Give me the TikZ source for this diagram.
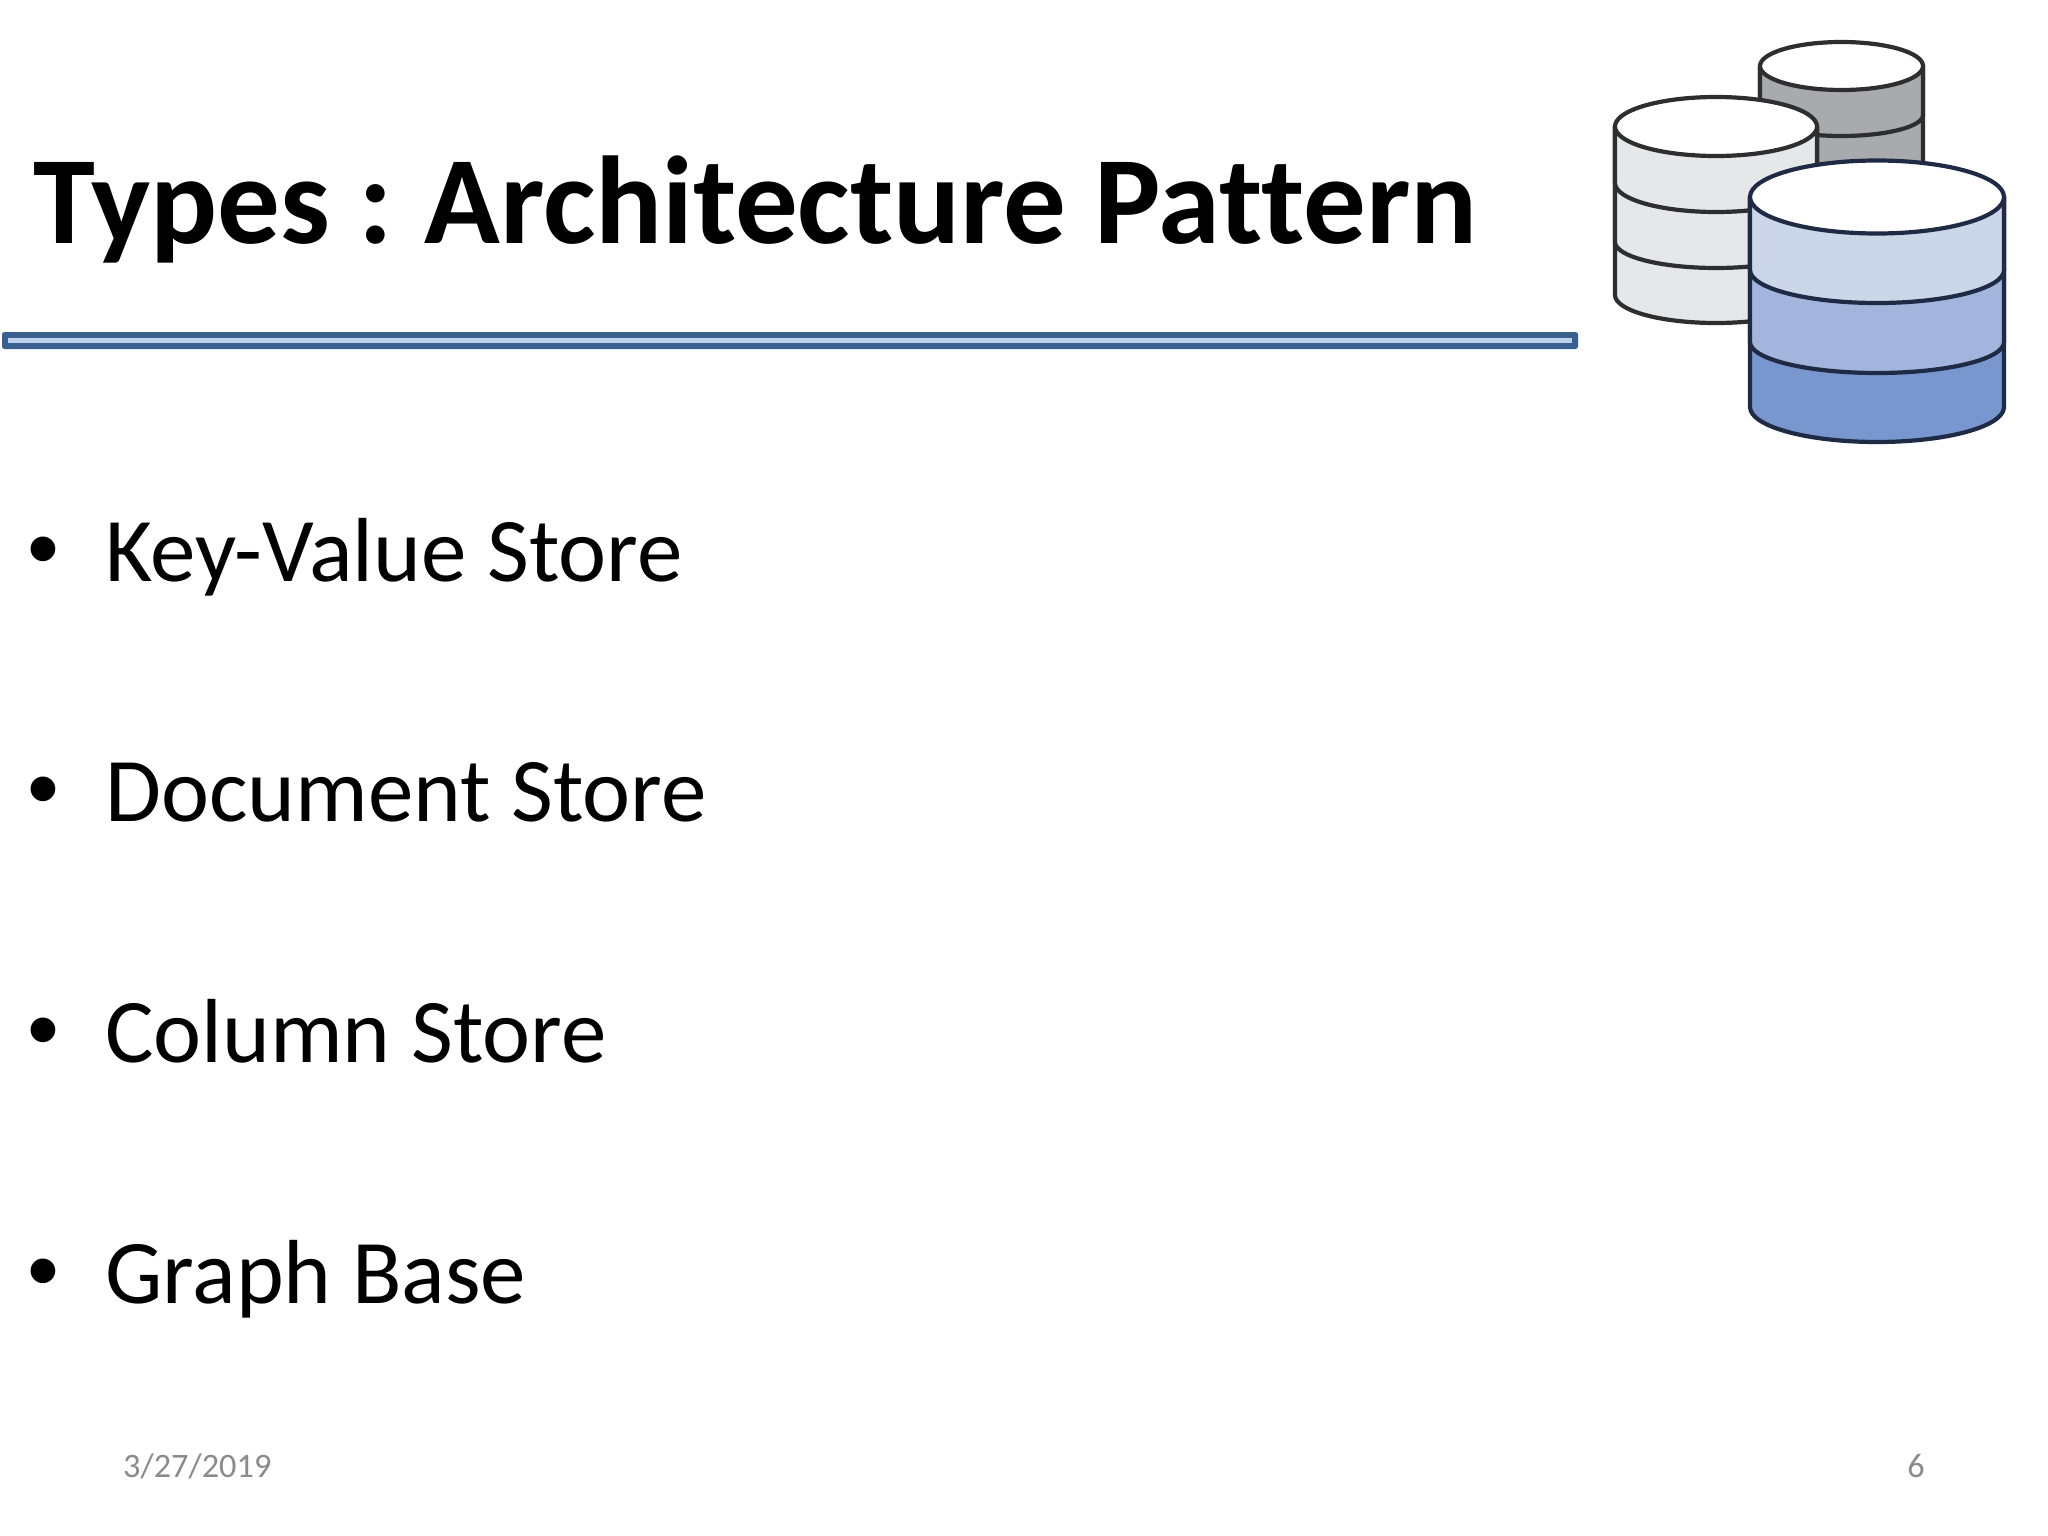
\documentclass[tikz,border=0pt]{standalone}
\usepackage{fontspec}
\setmainfont{Carlito}[RawFeature={-liga;-dlig;-clig}]
\newfontfamily\bulletfont{Liberation Sans}
\definecolor{barout}{HTML}{3A6090}
\definecolor{barin}{HTML}{BDD2EC}
\definecolor{footgray}{HTML}{8B8B8B}
\definecolor{edgegray}{HTML}{2E2E30}
\definecolor{edgeblue}{HTML}{1F2B45}
\definecolor{graytone}{HTML}{A9AAAD}
\definecolor{lighttone}{HTML}{E6E7E9}
\definecolor{blueA}{HTML}{CBD6E8}
\definecolor{blueB}{HTML}{A3B5DC}
\definecolor{blueC}{HTML}{7897CE}
\newcommand{\dblayer}[6]{% cx rx ry topy bottomsidey fill
  \filldraw[fill=#6] ({#1-#2},#4) -- ({#1-#2},#5) arc[start angle=180,end angle=0,x radius=#2,y radius=#3] -- ({#1+#2},#4) -- cycle;}
\newcommand{\dbtop}[4]{\filldraw[fill=white] (#1,#4) ellipse[x radius=#2,y radius=#3];}
\tikzset{
  titletext/.style={anchor=base west,inner sep=0pt,font=\bfseries\fontsize{125}{125}\selectfont},
  itemtext/.style={anchor=base west,inner sep=0pt,font=\fontsize{91}{91}\selectfont},
  itembullet/.style={anchor=base,inner sep=0pt,font=\bulletfont\fontsize{91}{91}\selectfont},
  foottext/.style={anchor=base,inner sep=0pt,text=footgray,font=\fontsize{34.3}{34.3}\selectfont},
  dbedge/.style={draw=edgegray,line width=4.2pt,line join=round},
  dbedgeblue/.style={draw=edgeblue,line width=4.2pt,line join=round}
}
\begin{document}
\begin{tikzpicture}[x=1pt,y=-1pt]
\useasboundingbox (0,0) rectangle (2048,1536);
\fill[white] (0,0) rectangle (2048,1536);
% title
\node[titletext] (title) at (33,243) {Types :\kern-6pt{} Architecture Pattern};
% rule
\fill[barout,rounded corners=2.5pt] (2,332) rectangle (1578,349);
\fill[barin] (8,338) rectangle (1572,343);
% bullets
\node[itembullet] (b1) at (43,579) {•};
\node[itemtext] (t1) at (105,581) {Key-Value Store};
\node[itembullet] (b2) at (43,819) {•};
\node[itemtext] (t2) at (105,821) {Document Store};
\node[itembullet] (b3) at (43,1060) {•};
\node[itemtext] (t3) at (105,1062) {Column Store};
\node[itembullet] (b4) at (43,1301) {•};
\node[itemtext] (t4) at (105,1303) {Graph Base};
% footer
\node[foottext,anchor=base west] (date) at (123,1477) {3/27/2019};
\node[foottext,anchor=base east] (page) at (1925,1477) {6};
% back cylinder
\begin{scope}[dbedge]
\dblayer{1841.5}{81.5}{21}{66}{180}{graytone}
\dblayer{1841.5}{81.5}{21}{66}{115}{graytone}
\dbtop{1841.5}{81.5}{24}{66}
\end{scope}
% left cylinder
\begin{scope}[dbedge]
\dblayer{1716}{101}{28}{126.5}{295}{lighttone}
\dblayer{1716}{101}{26}{126.5}{242}{lighttone}
\dblayer{1716}{101}{29}{126.5}{183}{lighttone}
\dbtop{1716}{101}{29.5}{126.5}
\end{scope}
% front cylinder
\begin{scope}[dbedgeblue]
\dblayer{1877}{127}{35}{197}{407}{blueC}
\dblayer{1877}{127}{31}{197}{342}{blueB}
\dblayer{1877}{127}{33}{197}{270}{blueA}
\dbtop{1877}{127}{36.5}{197}
\end{scope}
\end{tikzpicture}
\end{document}
